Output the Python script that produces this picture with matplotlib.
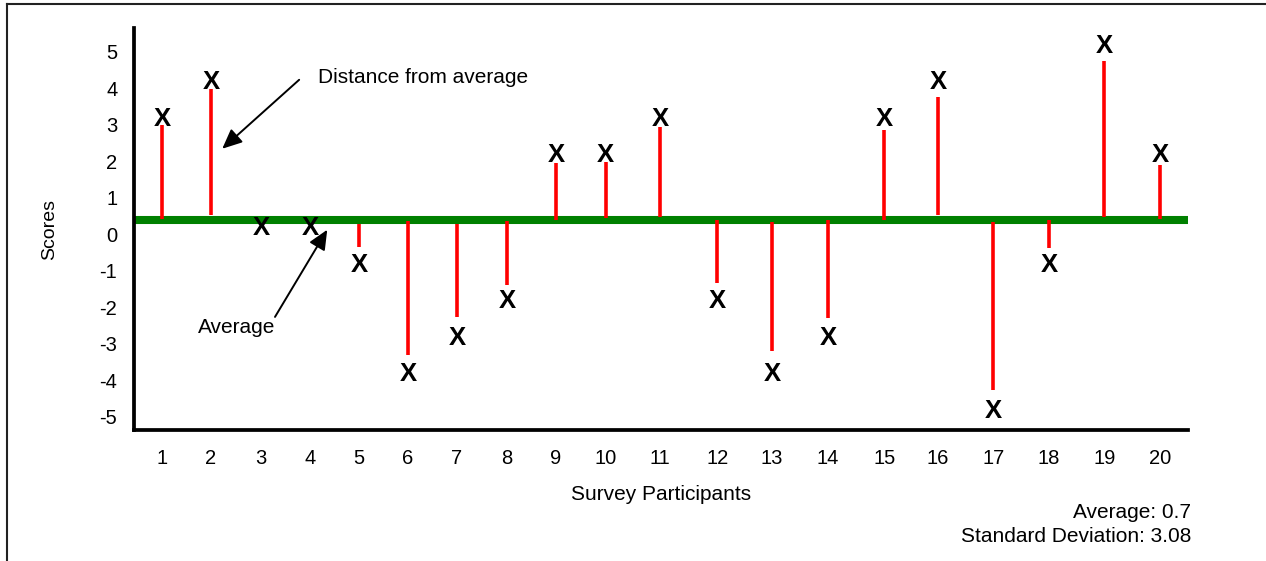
import matplotlib
matplotlib.use("Agg")
import matplotlib.pyplot as plt
from matplotlib.lines import Line2D

plt.rcParams['font.family'] = ['Liberation Sans', 'DejaVu Sans']
plt.rcParams['axes.unicode_minus'] = False

# Survey data
participants = list(range(1, 21))
# horizontal slot of each participant (slots are not evenly spaced in the original)
participant_pos = [1.0, 1.99, 3.01, 4.0, 5.0, 5.99, 6.98, 8.0, 8.99, 10.0,
                   11.10, 12.26, 13.37, 14.51, 15.65, 16.74, 17.86, 18.99, 20.11, 21.24]
scores = [3, 4, 0, 0, -1, -4, -3, -2, 2, 2, 3, -2, -4, -3, 3, 4, -5, -1, 5, 2]
# where each red "distance" stick starts / ends (None = no stick)
stick_start = [0.41, 0.52, None, None, 0.28, 0.36, 0.27, 0.36, 0.38, 0.45,
               0.47, 0.39, 0.33, 0.39, 0.39, 0.52, 0.33, 0.39, 0.47, 0.41]
stick_end = [2.99, 3.98, None, None, -0.36, -3.32, -2.28, -1.40, 1.95, 1.98,
             2.94, -1.35, -3.21, -2.31, 2.86, 3.76, -4.26, -0.38, 4.75, 1.90]
average_line = 0.38
average_text = "Average: 0.7"
std_text = "Standard Deviation: 3.08"

fig = plt.figure(figsize=(12.66, 5.61), dpi=100)
ax = fig.add_axes([134 / 1266, 131 / 561, 1054 / 1266, 402 / 561])

# average line
ax.axhline(average_line, color='#008000', lw=5.8, zorder=2)

# red sticks from the average to each score
for xp, s0, s1 in zip(participant_pos, stick_start, stick_end):
    if s1 is None:
        continue
    ax.plot([xp, xp], [s0, s1], color='#ff0000', lw=2.6, solid_capstyle='butt', zorder=3)

# the X marks
for xp, sc in zip(participant_pos, scores):
    ax.text(xp, sc + 0.16, "X", ha='center', va='center', fontsize=18.5,
            fontweight='bold', color='black', zorder=4)

ax.set_xlim(0.43, 21.81)
ax.set_ylim(-5.37, 5.65)
ax.set_xticks(participant_pos)
ax.set_xticklabels([str(p) for p in participants])
ax.set_yticks(range(-5, 6))
ax.tick_params(axis='both', length=0, labelsize=14.5, colors='black')
ax.tick_params(axis='y', pad=12)
ax.tick_params(axis='x', pad=14)

for side in ['top', 'right']:
    ax.spines[side].set_visible(False)
for side in ['left', 'bottom']:
    ax.spines[side].set_linewidth(2.7)
    ax.spines[side].set_color('black')

ax.set_ylabel("Scores", fontsize=14, labelpad=30)
ax.set_xlabel("Survey Participants", fontsize=15, labelpad=12)

# callouts
arrow = dict(arrowstyle="-|>,head_length=1.0,head_width=0.45", color='black',
             lw=1.4, mutation_scale=12, shrinkA=0, shrinkB=0)
ax.annotate("", xy=(2.22, 2.34), xytext=(3.78, 4.23), arrowprops=arrow)
ax.text(4.16, 4.29, "Distance from average", fontsize=15, ha='left', va='center')
ax.annotate("", xy=(4.35, 0.12), xytext=(3.29, -2.27), arrowprops=arrow)
ax.text(2.52, -2.57, "Average", fontsize=15, ha='center', va='center')

# summary numbers bottom right
fig.text(1191 / 1266, 1 - 512 / 561, average_text, fontsize=15, ha='right', va='center')
fig.text(1191 / 1266, 1 - 537 / 561, std_text, fontsize=15, ha='right', va='center')

# outer frame (left and top edges only show)
fig.add_artist(Line2D([6.5 / 1266, 6.5 / 1266], [0, 1 - 4 / 561], transform=fig.transFigure,
                      color='#222222', lw=1.5))
fig.add_artist(Line2D([6.5 / 1266, 1], [1 - 4 / 561, 1 - 4 / 561], transform=fig.transFigure,
                      color='#222222', lw=1.5))

fig.savefig("out.png", dpi=100)
